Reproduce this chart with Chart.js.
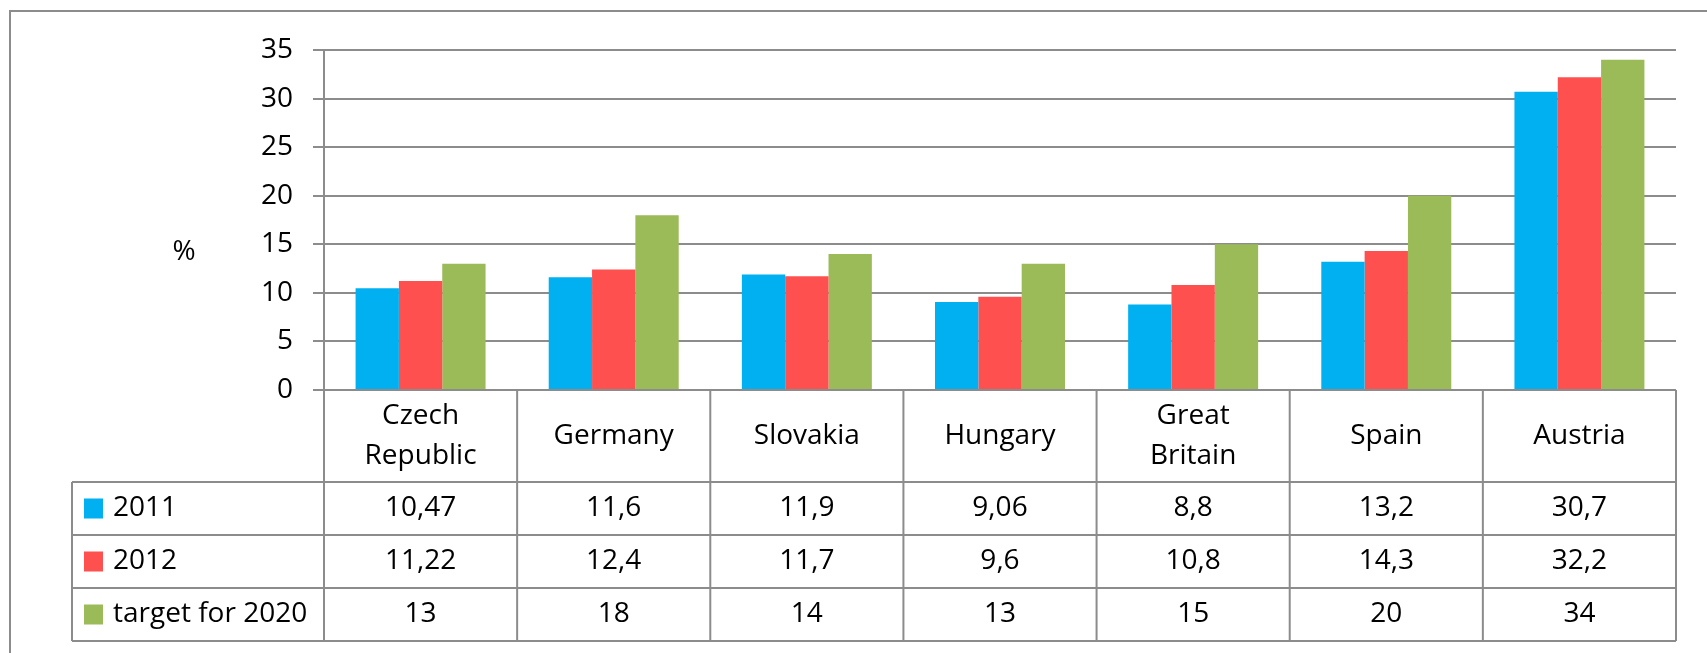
<!DOCTYPE html>
<html>
<head>
<meta charset="utf-8">
<script src="https://cdn.jsdelivr.net/npm/chart.js@4.4.1/dist/chart.umd.min.js"></script>
<style>
  html, body { margin: 0; padding: 0; background: #fff; }
  canvas { display: block; }
</style>
</head>
<body>
<canvas id="chart" width="1707" height="653"></canvas>
<script>
// data
const categories = [['Czech', 'Republic'], 'Germany', 'Slovakia', 'Hungary', ['Great', 'Britain'], 'Spain', 'Austria'];
const seriesNames = ['2011', '2012', 'target for 2020'];
const values2011 = [10.47, 11.6, 11.9, 9.06, 8.8, 13.2, 30.7];
const values2012 = [11.22, 12.4, 11.7, 9.6, 10.8, 14.3, 32.2];
const valuesTarget = [13, 18, 14, 13, 15, 20, 34];
const axisLabel = '%';
const yMin = 0, yMax = 35, yStep = 5;

const colors = ['#00b0f0', '#ff5050', '#9bbb59'];
const LINE = '#8c8c8c';
const FONT = '"Open Sans", sans-serif';
const fmt = v => String(v).replace('.', ',');

Chart.defaults.font.family = FONT;

// outer frame of the picture (only its top and left edges are inside the window)
const frame = {
	id: 'frame',
	beforeDraw(chart) {
		const ctx = chart.ctx;
		ctx.save();
		ctx.strokeStyle = LINE;
		ctx.lineWidth = 2;
		ctx.strokeRect(10, 11, 2000, 1000);
		ctx.restore();
	}
};

// data table under the plot, with the legend keys in the first column
const dataTable = {
	id: 'dataTable',
	afterDraw(chart) {
		const { ctx, chartArea } = chart;
		const x = chart.scales.x;
		const rows = [values2011, values2012, valuesTarget];
		const tableLeft = 72;
		const headTop = chartArea.bottom;
		const headBottom = 482;
		const rowH = 53;
		const bottom = headBottom + rows.length * rowH;
		const step = x.getPixelForValue(1) - x.getPixelForValue(0);
		const edge = i => x.getPixelForValue(i) - step / 2;

		ctx.save();
		ctx.strokeStyle = LINE;
		ctx.lineWidth = 2;
		ctx.beginPath();
		for (let i = 0; i <= categories.length; i++) {
			ctx.moveTo(edge(i), headTop);
			ctx.lineTo(edge(i), bottom);
		}
		ctx.moveTo(tableLeft, headBottom);
		ctx.lineTo(tableLeft, bottom);
		for (let r = 0; r <= rows.length; r++) {
			ctx.moveTo(tableLeft, headBottom + r * rowH);
			ctx.lineTo(edge(categories.length), headBottom + r * rowH);
		}
		ctx.stroke();

		ctx.fillStyle = '#000';
		ctx.font = '28px ' + FONT;
		ctx.textAlign = 'center';
		ctx.textBaseline = 'middle';
		const headMid = (headTop + headBottom) / 2;
		categories.forEach((c, i) => {
			const lines = Array.isArray(c) ? c : [c];
			lines.forEach((t, k) => {
				ctx.fillText(t, x.getPixelForValue(i), headMid + (k - (lines.length - 1) / 2) * 40);
			});
		});

		rows.forEach((vals, r) => {
			const mid = headBottom + r * rowH + rowH / 2;
			ctx.textAlign = 'center';
			vals.forEach((v, i) => ctx.fillText(fmt(v), x.getPixelForValue(i), mid));
			ctx.fillStyle = colors[r];
			ctx.fillRect(84, mid - 10, 19, 20);
			ctx.fillStyle = '#000';
			ctx.textAlign = 'left';
			ctx.fillText(seriesNames[r], 113, mid);
		});

		ctx.textAlign = 'center';
		ctx.fillText(axisLabel, 184, 252);
		ctx.restore();
	}
};

new Chart(document.getElementById('chart'), {
	type: 'bar',
	data: {
		labels: categories,
		datasets: [
			{ label: seriesNames[0], data: values2011, backgroundColor: colors[0] },
			{ label: seriesNames[1], data: values2012, backgroundColor: colors[1] },
			{ label: seriesNames[2], data: valuesTarget, backgroundColor: colors[2] }
		]
	},
	options: {
		responsive: false,
		animation: false,
		layout: { padding: { left: 0, top: 50, right: 31, bottom: 263 } },
		datasets: { bar: { categoryPercentage: 0.673, barPercentage: 1, borderWidth: 0 } },
		plugins: { legend: { display: false }, tooltip: { enabled: false } },
		scales: {
			x: { display: false },
			y: {
				min: yMin,
				max: yMax,
				ticks: { stepSize: yStep, color: '#000', font: { size: 28 }, padding: 20 },
				grid: { color: LINE, lineWidth: 2, tickLength: 11 },
				border: { color: LINE, width: 2 },
				afterFit: s => { s.width = 324; }
			}
		}
	},
	plugins: [frame, dataTable]
});
</script>
</body>
</html>
